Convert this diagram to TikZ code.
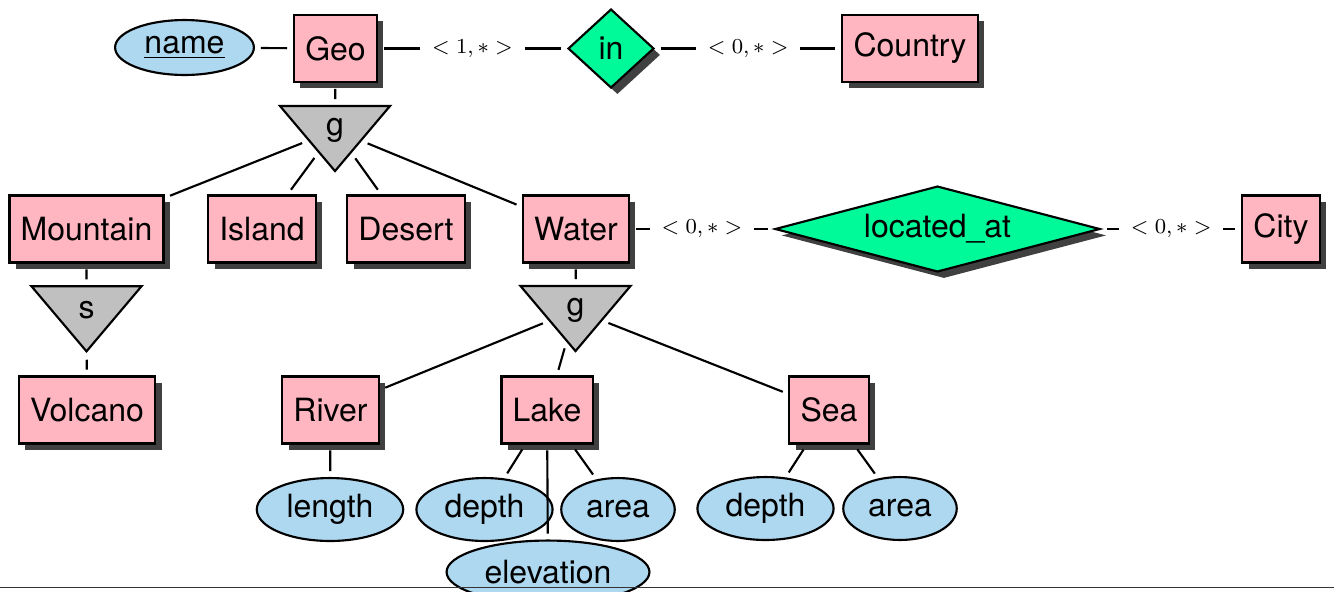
\documentclass[tikz,border=0pt]{standalone}
\usepackage{fontspec}
\setmainfont{TeX Gyre Heros}
\usetikzlibrary{shapes.geometric,shadows}
\definecolor{entpink}{HTML}{FFB6C1}
\definecolor{relgreen}{HTML}{00FA9A}
\definecolor{attblue}{HTML}{ADD8F0}
\definecolor{isagray}{HTML}{C0C0C0}
\definecolor{shadowgray}{HTML}{404040}
\begin{document}
\begin{tikzpicture}[x=0.375pt,y=-0.375pt,
  font=\fontsize{12}{14}\selectfont, line width=0.8pt,
  shad/.style={drop shadow={shadow xshift=2.4pt, shadow yshift=-2.4pt, fill=shadowgray, opacity=1}},
  entity/.style={draw, fill=entpink, minimum height=25.1pt, inner xsep=4.2pt, inner ysep=0pt, shad},
  rel/.style={diamond, draw, fill=relgreen, inner sep=0pt, shad},
  attr/.style={ellipse, draw, fill=attblue, inner xsep=3.1pt, inner ysep=0pt, minimum height=23.6pt},
  isa/.style={isosceles triangle, isosceles triangle stretches, shape border rotate=270, draw, fill=isagray, inner sep=0pt, minimum width=41.25pt, minimum height=24.4pt},
  conn/.style={shorten >=2.2pt, shorten <=2.2pt},
  card/.style={fill=white, inner xsep=4.5pt, inner ysep=1pt, font=\fontsize{8}{9}\selectfont}
]
\clip (0,0) rectangle (1334,591);
% top row
\node[attr, minimum height=20.6pt, inner xsep=3.4pt] (name) at (184.5,47.5) {\underline{name}};
\node[entity] (Geo) at (335.5,48.5) {Geo};
\node[rel, minimum width=32.2pt, minimum height=29.6pt] (in) at (611,48.5) {in};
\node[entity] (Country) at (910,48.5) {Country};
% isa
\node[isa] (g1) at (335,130) {g};
% second row
\node[entity] (Mountain) at (86.5,229) {Mountain};
\node[entity] (Island) at (262,229) {Island};
\node[entity] (Desert) at (406,229) {Desert};
\node[entity] (Water) at (576,229) {Water};
\node[rel, aspect=3.8, minimum width=121.9pt, minimum height=32.2pt] (loc) at (937.5,229) {located\_at};
\node[entity] (City) at (1281,229) {City};
% isa row 2
\node[isa] (s1) at (86.5,310) {s};
\node[isa] (g2) at (575.5,310) {g};
% third row
\node[entity] (Volcano) at (87,410) {Volcano};
\node[entity] (River) at (330.5,410) {River};
\node[entity] (Lake) at (547,410) {Lake};
\node[entity] (Sea) at (829,410) {Sea};
% attributes
\node[attr] (length) at (330,509.5) {length};
\node[attr] (depthL) at (484.5,509.5) {depth};
\node[attr] (areaL) at (618,509.5) {area};
\node[attr] (elev) at (548,572) {elevation};
\node[attr] (depthS) at (765.5,508.5) {depth};
\node[attr] (areaS) at (900,508.5) {area};
% connectors
\draw[conn] (name) -- (Geo);
\draw[conn] (Geo) -- node[card]{$<1,*>$} (in);
\draw[conn] (in) -- node[card]{$<0,*>$} (Country);
\draw[conn] (Geo) -- (g1);
\draw[conn] (g1) -- (Mountain);
\draw[conn] (g1) -- (Island);
\draw[conn] (g1) -- (Desert);
\draw[conn] (g1) -- (Water);
\draw[conn] (Water) -- node[card]{$<0,*>$} (loc);
\draw[conn] (loc) -- node[card]{$<0,*>$} (City);
\draw[conn] (Mountain) -- (s1);
\draw[conn] (s1) -- (Volcano);
\draw[conn] (Water) -- (g2);
\draw[conn] (g2) -- (River);
\draw[conn] (g2) -- (Lake);
\draw[conn] (g2) -- (Sea);
\draw[conn] (River) -- (length);
\draw[conn] (Lake) -- (depthL);
\draw[conn] (Lake) -- (areaL);
\draw[conn] (Lake) -- (elev);
\draw[conn] (Sea) -- (depthS);
\draw[conn] (Sea) -- (areaS);
% bottom rule
\draw[line width=0.6pt, black!80] (0,587.5) -- (1334,587.5);
\end{tikzpicture}
\end{document}
